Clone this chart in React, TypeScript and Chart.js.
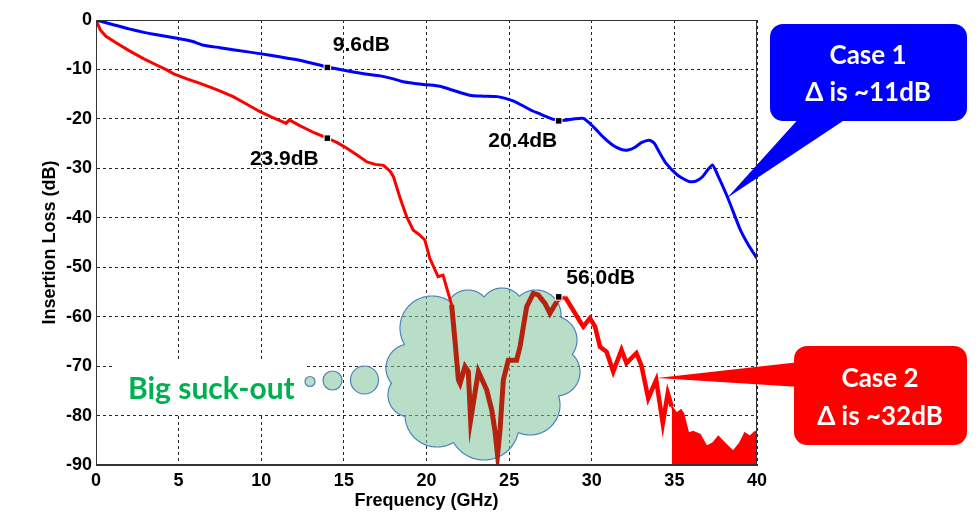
import { useEffect, useRef } from 'react';
import { Chart, registerables } from 'chart.js';

Chart.register(...registerables);

// Case 1 (blue) – insertion loss vs frequency
const case1Freq = [0, 1, 2, 2.9, 3.5, 4.9, 5.8, 6.5, 7.5, 8.5, 9.9, 11, 12.4, 14, 15.4, 16.3, 17.2, 18.0, 18.6, 19.2, 20.0, 20.8, 21.6, 22.6, 23.4, 24.3, 25.2, 25.8, 26.3, 26.8, 27.3, 27.7, 28.3, 28.9, 29.5, 30.1, 30.7, 31.3, 31.8, 32.2, 32.6, 33.0, 33.5, 33.8, 34.1, 34.5, 35.2, 35.9, 36.3, 36.7, 37.0, 37.3, 37.6, 38.2, 39.0, 39.5, 40];
const case1Loss = [0, -0.9, -1.8, -2.5, -2.9, -3.7, -4.3, -5.1, -5.6, -6.1, -6.8, -7.4, -8.2, -9.5, -10.4, -10.9, -11.3, -11.9, -12.5, -12.8, -13.1, -13.4, -14.2, -15.2, -15.4, -15.5, -16.3, -17.3, -18.2, -18.9, -19.6, -20.1, -20.3, -20.0, -19.9, -21.6, -23.7, -25.4, -26.2, -26.3, -25.8, -24.8, -24.3, -25.0, -26.8, -29.0, -31.4, -32.7, -32.6, -31.7, -30.4, -29.3, -31.2, -35.7, -42.5, -45.6, -48.2];

// Case 2 (red) – up to where the trace hits the noise floor
const case2Freq = [0, 0.26, 0.6, 1.26, 2, 2.87, 3.6, 4.28, 4.7, 5.5, 6.3, 7.3, 8.3, 9.1, 9.9, 10.6, 11.3, 11.5, 11.7, 12.3, 13.2, 14, 14.6, 15.2, 15.8, 16.4, 16.9, 17.4, 17.8, 18.0, 18.4, 18.8, 19.2, 19.6, 19.9, 20.2, 20.7, 21.0, 21.52, 21.72, 21.93, 22.03, 22.33, 22.53, 22.67, 23.14, 23.64, 23.95, 24.15, 24.3, 24.45, 24.65, 24.95, 25.45, 25.66, 26.06, 26.46, 26.76, 27.17, 27.47, 27.88, 28.38, 28.88, 29.29, 29.49, 29.89, 30.2, 30.5, 30.9, 31.3, 31.8, 32.1, 32.7, 33.0, 33.42, 33.9, 34.3, 34.6, 34.84];
const case2Loss = [0, -2, -3.3, -4.7, -6.2, -7.8, -9, -10.1, -10.9, -11.9, -12.8, -14.1, -15.5, -17, -18.5, -19.6, -20.6, -20.9, -20.2, -21.3, -22.8, -23.9, -24.8, -26, -27.3, -28.7, -29.2, -29.4, -30.6, -31.7, -36, -39.8, -42.5, -43.5, -44.5, -48.2, -51.9, -51.6, -57.6, -64.7, -72.8, -73.5, -70.1, -71.1, -80.9, -71.1, -74.8, -78.9, -83.3, -88.0, -82.9, -72.8, -68.8, -68.8, -66.1, -58, -55.3, -55.6, -57.3, -59.3, -57.0, -56, -58.7, -61, -62, -60.3, -62, -66.1, -67.1, -71.1, -66.7, -69.4, -67.4, -69.8, -76.5, -72.8, -81.6, -75.5, -78.2];

// Case 2 above ~35 GHz: upper envelope of the noise floor
const floorFreq = [34.84, 35.14, 35.4, 35.54, 35.84, 36.14, 36.55, 36.95, 37.35, 37.66, 38.16, 38.56, 38.97, 39.27, 39.57, 39.88, 40];
const floorLoss = [-78.2, -79.6, -78.9, -79.6, -83.6, -83.3, -83.9, -86.3, -85.6, -84.3, -86, -87.3, -85.6, -83.6, -84.3, -83.3, -83.5];

// marked points and their labels
const markFreq = [14, 28, 14, 28];
const markLoss = [-9.6, -20.4, -23.9, -56.0];
const markText = ['9.6dB', '20.4dB', '23.9dB', '56.0dB'];

const freqTicks = [0, 5, 10, 15, 20, 25, 30, 35, 40];
const lossTicks = [0, -10, -20, -30, -40, -50, -60, -70, -80, -90];

// suck-out band drawn darker (under the cloud), noisy part drawn thicker
const SUCK_FROM = 21.5;
const SUCK_TO = 27.9;
const NOISY_FROM = 28.3;

// label offsets from marker, px
const MARK_LABEL_OFFSET = [[34, -22], [-36, 20], [-43, 21], [42, -19]];

const BLUE = '#0000ff';
const RED = '#ff0000';
const DARK_RED = '#b4230f';
const CLOUD_FILL = 'rgba(125, 195, 155, 0.55)';
const CLOUD_LINE = '#4f81bd';
const LABEL_FONT = 'bold 21px Arial, "Liberation Sans", sans-serif';
const CALLOUT_FONT = 'bold 26px Lato, "Open Sans", sans-serif';

// cloud bumps: cx, cy, r, outline?
const CLOUD_BUMPS: [number, number, number, boolean][] = [
  [410, 368, 24, true],
  [432, 328, 32, true],
  [468, 312, 22, true],
  [502, 310, 22, true],
  [536, 315, 25, true],
  [553, 340, 24, true],
  [556, 372, 24, true],
  [530, 405, 30, true],
  [484, 425, 35, true],
  [437, 415, 32, true],
  [410, 395, 22, true],
  [483, 370, 62, false],
];
const BUBBLES = [[310, 381.5, 5], [332.5, 380.5, 9.5], [364.5, 380, 14]];

const toPoints = (xs: number[], ys: number[]) => xs.map((x, i) => ({ x, y: ys[i] }));

const inSuckOut = (c: any) => c.p0.parsed.x >= SUCK_FROM && c.p1.parsed.x <= SUCK_TO;

const drawCallout = (
  ctx: CanvasRenderingContext2D,
  color: string,
  box: number[],
  pointer: number[],
  lines: string[],
  cx: number,
  lineY: number[]
) => {
  const [x, y, w, h] = box;
  ctx.fillStyle = color;
  ctx.beginPath();
  ctx.roundRect(x, y, w, h, 13);
  ctx.fill();
  ctx.beginPath();
  ctx.moveTo(pointer[0], pointer[1]);
  ctx.lineTo(pointer[2], pointer[3]);
  ctx.lineTo(pointer[4], pointer[5]);
  ctx.closePath();
  ctx.fill();
  ctx.fillStyle = '#fff';
  ctx.font = CALLOUT_FONT;
  ctx.textAlign = 'center';
  ctx.textBaseline = 'middle';
  lines.forEach((t, i) => ctx.fillText(t, cx, lineY[i]));
};

const decorations = {
  id: 'decorations',
  beforeDatasetsDraw(chart: any) {
    const { ctx } = chart;
    ctx.save();
    // text box of the "Big suck-out" note hides the grid behind it
    ctx.fillStyle = '#fff';
    ctx.fillRect(112, 361, 193, 53);
    ctx.fillStyle = '#00b050';
    ctx.font = 'bold 30px Lato, "Open Sans", sans-serif';
    ctx.textAlign = 'left';
    ctx.textBaseline = 'alphabetic';
    ctx.fillText('Big suck-out', 128, 399);

    // cloud: union of circles in one path
    ctx.beginPath();
    for (const [cx, cy, r] of CLOUD_BUMPS) {
      ctx.moveTo(cx + r, cy);
      ctx.arc(cx, cy, r, 0, Math.PI * 2);
    }
    ctx.fillStyle = CLOUD_FILL;
    ctx.fill();
    // outline only the outer parts of each bump
    ctx.strokeStyle = CLOUD_LINE;
    ctx.lineWidth = 1.2;
    CLOUD_BUMPS.forEach(([cx, cy, r, outline], i) => {
      if (!outline) return;
      ctx.beginPath();
      let pen = false;
      for (let a = 0; a <= Math.PI * 2 + 0.001; a += 0.02) {
        const px = cx + r * Math.cos(a);
        const py = cy + r * Math.sin(a);
        const hidden = CLOUD_BUMPS.some(([ox, oy, or], j) => j !== i && Math.hypot(px - ox, py - oy) < or - 0.4);
        if (hidden) {
          pen = false;
        } else if (!pen) {
          ctx.moveTo(px, py);
          pen = true;
        } else {
          ctx.lineTo(px, py);
        }
      }
      ctx.stroke();
    });
    for (const [bx, by, br] of BUBBLES) {
      ctx.beginPath();
      ctx.arc(bx, by, br, 0, Math.PI * 2);
      ctx.fillStyle = CLOUD_FILL;
      ctx.fill();
      ctx.stroke();
    }
    ctx.restore();
  },
  afterDatasetsDraw(chart: any) {
    const { ctx, chartArea: a, scales } = chart;
    ctx.save();
    // axes box
    ctx.strokeStyle = '#333';
    ctx.lineWidth = 1;
    ctx.strokeRect(a.left + 0.5, a.top + 0.5, a.right - a.left - 1, a.bottom - a.top - 1);

    // marker labels
    ctx.fillStyle = '#000';
    ctx.font = LABEL_FONT;
    ctx.textAlign = 'center';
    ctx.textBaseline = 'middle';
    markText.forEach((t, i) => {
      const px = scales.x.getPixelForValue(markFreq[i]);
      const py = scales.y.getPixelForValue(markLoss[i]);
      ctx.fillText(t, px + MARK_LABEL_OFFSET[i][0], py + MARK_LABEL_OFFSET[i][1]);
    });

    // callouts
    drawCallout(ctx, BLUE, [770, 24, 197, 97], [802, 115, 852, 115, 727, 198], ['Case 1', 'Δ is ~11dB'], 868, [56, 93]);
    drawCallout(ctx, RED, [794, 346, 173, 99], [800, 362, 800, 387, 657, 378], ['Case 2', 'Δ is ~32dB'], 880, [379, 417]);
    ctx.restore();
  },
};

const InsertionLossChart = () => {
  const canvasRef = useRef<HTMLCanvasElement>(null);

  useEffect(() => {
    if (!canvasRef.current) return;
    const tickFont = { family: 'Arial, "Liberation Sans", sans-serif', size: 18, weight: 'bold' as const };
    const titleFont = { family: 'Arial, "Liberation Sans", sans-serif', size: 18, weight: 'bold' as const };

    const chart = new Chart(canvasRef.current, {
      type: 'line',
      data: {
        datasets: [
          {
            label: 'markers',
            data: toPoints(markFreq, markLoss),
            showLine: false,
            pointStyle: 'rect',
            pointRadius: 4.6,
            pointBackgroundColor: '#000',
            pointBorderColor: '#fff',
            pointBorderWidth: 1,
          },
          {
            label: 'Case 1',
            data: toPoints(case1Freq, case1Loss),
            borderColor: BLUE,
            borderWidth: 3,
            pointRadius: 0,
            tension: 0.2,
          },
          {
            label: 'Case 2',
            data: toPoints(case2Freq, case2Loss),
            borderColor: RED,
            borderWidth: 3,
            pointRadius: 0,
            tension: 0,
            segment: {
              borderColor: (c: any) => (inSuckOut(c) ? DARK_RED : undefined),
              borderWidth: (c: any) => (inSuckOut(c) ? 5 : c.p0.parsed.x >= NOISY_FROM ? 4.5 : undefined),
            },
          },
          {
            label: 'Case 2 floor',
            data: toPoints(floorFreq, floorLoss),
            borderColor: RED,
            backgroundColor: RED,
            borderWidth: 2,
            pointRadius: 0,
            fill: 'start',
          },
        ],
      },
      options: {
        animation: false,
        responsive: true,
        maintainAspectRatio: false,
        events: [],
        layout: { padding: { left: 0, top: 20, right: 221, bottom: 0 } },
        plugins: {
          legend: { display: false },
          tooltip: { enabled: false },
        },
        scales: {
          x: {
            type: 'linear',
            min: 0,
            max: 40,
            afterBuildTicks: (s: any) => {
              s.ticks = freqTicks.map((v) => ({ value: v }));
            },
            afterFit: (s: any) => {
              s.height = 52;
            },
            ticks: { color: '#000', font: tickFont, padding: 5, maxRotation: 0 },
            grid: { color: 'rgba(0,0,0,0.85)', lineWidth: 1, drawTicks: false },
            border: { display: true, color: '#333', dash: [3, 3] },
            title: {
              display: true,
              text: 'Frequency (GHz)',
              color: '#000',
              font: titleFont,
              padding: { top: 0, bottom: 5 },
            },
          },
          y: {
            type: 'linear',
            min: -90,
            max: 0,
            afterBuildTicks: (s: any) => {
              s.ticks = lossTicks.map((v) => ({ value: v }));
            },
            afterFit: (s: any) => {
              s.width = 96;
            },
            ticks: { color: '#000', font: tickFont, padding: 4 },
            grid: { color: 'rgba(0,0,0,0.85)', lineWidth: 1, drawTicks: false },
            border: { display: true, color: '#333', dash: [3, 3] },
            title: {
              display: true,
              text: 'Insertion Loss (dB)',
              color: '#000',
              font: titleFont,
              padding: { top: 39, bottom: 0 },
            },
          },
        },
      },
      plugins: [decorations],
    });

    return () => {
      chart.destroy();
    };
  }, []);

  return (
    <div style={{ position: 'absolute', left: 0, top: 0, width: 978, height: 517, background: '#fff' }}>
      <canvas ref={canvasRef} />
    </div>
  );
};

export default function App() {
  return <InsertionLossChart />;
}
